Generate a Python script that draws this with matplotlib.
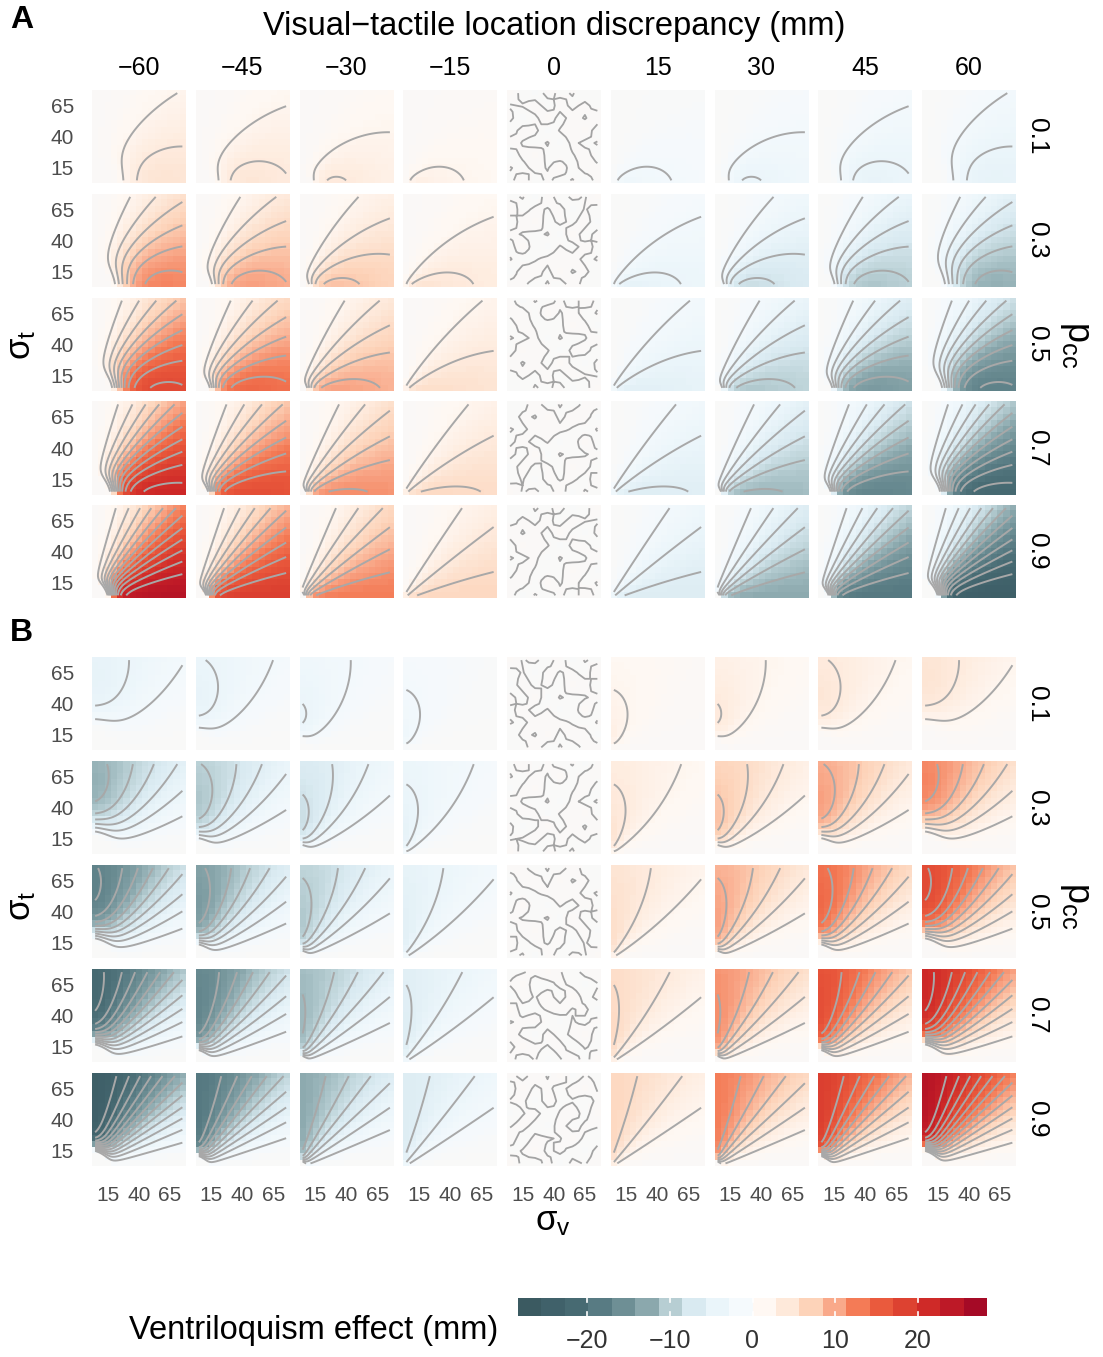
import numpy as np
import matplotlib
matplotlib.use('Agg')
import matplotlib.pyplot as plt
from matplotlib.colors import LinearSegmentedColormap, ListedColormap, BoundaryNorm

plt.rcParams['font.family'] = ['Liberation Sans', 'DejaVu Sans']
plt.rcParams['mathtext.fontset'] = 'custom'
plt.rcParams['mathtext.rm'] = 'Liberation Sans'
plt.rcParams['mathtext.it'] = 'Liberation Sans:italic'
plt.rcParams['mathtext.default'] = 'regular'
plt.rcParams['contour.negative_linestyle'] = 'solid'

# data
discrepancy = [-60, -45, -30, -15, 0, 15, 30, 45, 60]
p_cc = [0.1, 0.3, 0.5, 0.7, 0.9]
sigma = np.arange(5, 80, 5)          # sigma_v / sigma_t grid (mm)
sigma_ticks = [15, 40, 65]
cb_ticks = [-20, -10, 0, 10, 20]
cb_limit = 28.4
bin_colors = ['#3b5a61', '#40616a', '#476a72', '#587b83', '#6e8f95',
              '#8ba8ad', '#b7ced3', '#d9eaf1', '#eaf5fa', '#f5fafd',
              '#fff8f3', '#fee9da', '#fdd3b9', '#f9a98a', '#f47b56',
              '#ea5a3d', '#dd4231', '#cf2a28', '#bd1927', '#a50a26']

# simulation noise left in the zero-discrepancy column (hand typed)
noise_a = ["38162507",
           "52749186",
           "06931472",
           "84250635",
           "17605891",
           "60392748",
           "45817362",
           "92073514"]
noise_b = ["71504829",
           "29647153",
           "83072691",
           "46810537",
           "92358460",
           "07481926",
           "59126304",
           "34695178"]

# causal inference model
W_RANGE = 500.0
SCALE = 0.46


def effect(sv, st, d, p, panel):
    'ventriloquism effect of the visual (A) or tactile (B) estimate'
    s2 = sv**2 + st**2
    lik = W_RANGE * np.exp(-d**2 / (2 * s2)) / np.sqrt(2 * np.pi * s2)
    pc = p * lik / (p * lik + 1 - p)
    if panel == 'A':
        return -SCALE * d * pc * sv**2 / s2
    return SCALE * d * pc * st**2 / s2


def noise_field(k):
    base = noise_a if k < 8 else noise_b
    m = np.array([[int(c) for c in row] for row in base], float) - 4.5
    m = np.rot90(m, k % 4)
    if (k // 4) % 2:
        m = m[:, ::-1]
    c = np.linspace(0, 1, m.shape[0])
    f = np.linspace(0, 1, len(sigma))
    m = np.array([np.interp(f, c, r) for r in m])
    m = np.array([np.interp(f, c, col) for col in m.T]).T
    return m * 0.05


W, H = 1103, 1357
fig = plt.figure(figsize=(W / 100, H / 100), dpi=100)


def rect(left, top, w, h):
    return [left / W, 1 - (top + h) / H, w / W, h / H]


def ftext(x, y, s, **kw):
    fig.text(x / W, 1 - y / H, s, **kw)


cmap = LinearSegmentedColormap.from_list('ve', bin_colors)
levels = np.arange(-28, 29, 2)
levels = levels[levels != 0]
sig_f = np.linspace(5, 75, 57)
SV, ST = np.meshgrid(sigma, sigma)
SVf, STf = np.meshgrid(sig_f, sig_f)

panel_w = 93.5
col_left = [92 + i * 103.75 for i in range(9)]
row_top = {'A': [90 + j * 103.75 for j in range(5)],
           'B': [657 + j * 104 for j in range(5)]}

nk = 0
for panel in ['A', 'B']:
    for j, p in enumerate(p_cc):
        for i, d in enumerate(discrepancy):
            ax = fig.add_axes(rect(col_left[i], row_top[panel][j], panel_w, panel_w))
            if d == 0:
                z = noise_field(nk)
                nk += 1
                ax.imshow(z, origin='lower', extent=[2.5, 77.5, 2.5, 77.5], cmap=cmap,
                          vmin=-cb_limit, vmax=cb_limit, interpolation='nearest', aspect='auto')
                ax.contour(sigma, sigma, z, levels=[0], colors='#a3a3a3',
                           linewidths=1.3, linestyles='solid')
            else:
                z = effect(SV, ST, d, p, panel)
                zf = effect(SVf, STf, d, p, panel)
                ax.imshow(z, origin='lower', extent=[2.5, 77.5, 2.5, 77.5], cmap=cmap,
                          vmin=-cb_limit, vmax=cb_limit, interpolation='nearest', aspect='auto')
                ax.contour(sig_f, sig_f, zf, levels=levels, colors='#a8a8a8',
                           linewidths=1.4, linestyles='solid')
            ax.set_xlim(2.5, 77.5)
            ax.set_ylim(2.5, 77.5)
            for sp in ax.spines.values():
                sp.set_visible(False)
            ax.tick_params(length=0, labelsize=15, labelcolor='#4d4d4d', pad=13)
            if i == 0:
                ax.set_yticks(sigma_ticks)
            else:
                ax.set_yticks([])
            if panel == 'B' and j == 4:
                ax.set_xticks(sigma_ticks)
                ax.tick_params(axis='x', pad=14)
            else:
                ax.set_xticks([])
            if i == 8:
                ftext(1037, row_top[panel][j] + panel_w / 2, str(p), rotation=-90,
                      ha='center', va='center', fontsize=19)
            if panel == 'A' and j == 0:
                ftext(col_left[i] + panel_w / 2, 68, str(d).replace('-', '\u2212'),
                      ha='center', va='center', fontsize=18)

# labels
ftext(10, 20, 'A', fontsize=23, fontweight='bold', ha='left', va='center')
ftext(10, 633, 'B', fontsize=23, fontweight='bold', ha='left', va='center')
ftext(554, 27, 'Visual\u2212tactile location discrepancy (mm)', fontsize=23.5,
      ha='center', va='center')
for yc in [345, 906]:
    ftext(22, yc, r'$\sigma_t$', fontsize=25, rotation=90, ha='center', va='center')
    ftext(1075, yc, r'$p_{cc}$', fontsize=26, rotation=-90, ha='center', va='center')
ftext(553, 1222, r'$\sigma_v$', fontsize=25, ha='center', va='center')

# colorbar
cax = fig.add_axes(rect(518, 1298, 469, 18))
edges = np.linspace(-cb_limit, cb_limit, len(bin_colors) + 1)
cax.pcolormesh(edges, [0, 1], np.array([(edges[:-1] + edges[1:]) / 2]),
               cmap=ListedColormap(bin_colors), norm=BoundaryNorm(edges, len(bin_colors)))
cax.set_xlim(-cb_limit, cb_limit)
cax.set_ylim(0, 1)
for t in cb_ticks:
    cax.plot([t, t], [0, 0.2], color='white', lw=1.2)
    cax.plot([t, t], [0.8, 1], color='white', lw=1.2)
for sp in cax.spines.values():
    sp.set_visible(False)
cax.set_yticks([])
cax.set_xticks(cb_ticks)
cax.set_xticklabels([str(t).replace('-', '\u2212') for t in cb_ticks])
cax.tick_params(length=0, labelsize=18, labelcolor='#333333', pad=9)
ftext(498, 1331, 'Ventriloquism effect (mm)', fontsize=23.5, ha='right', va='center')

fig.savefig('out.png', dpi=100)
